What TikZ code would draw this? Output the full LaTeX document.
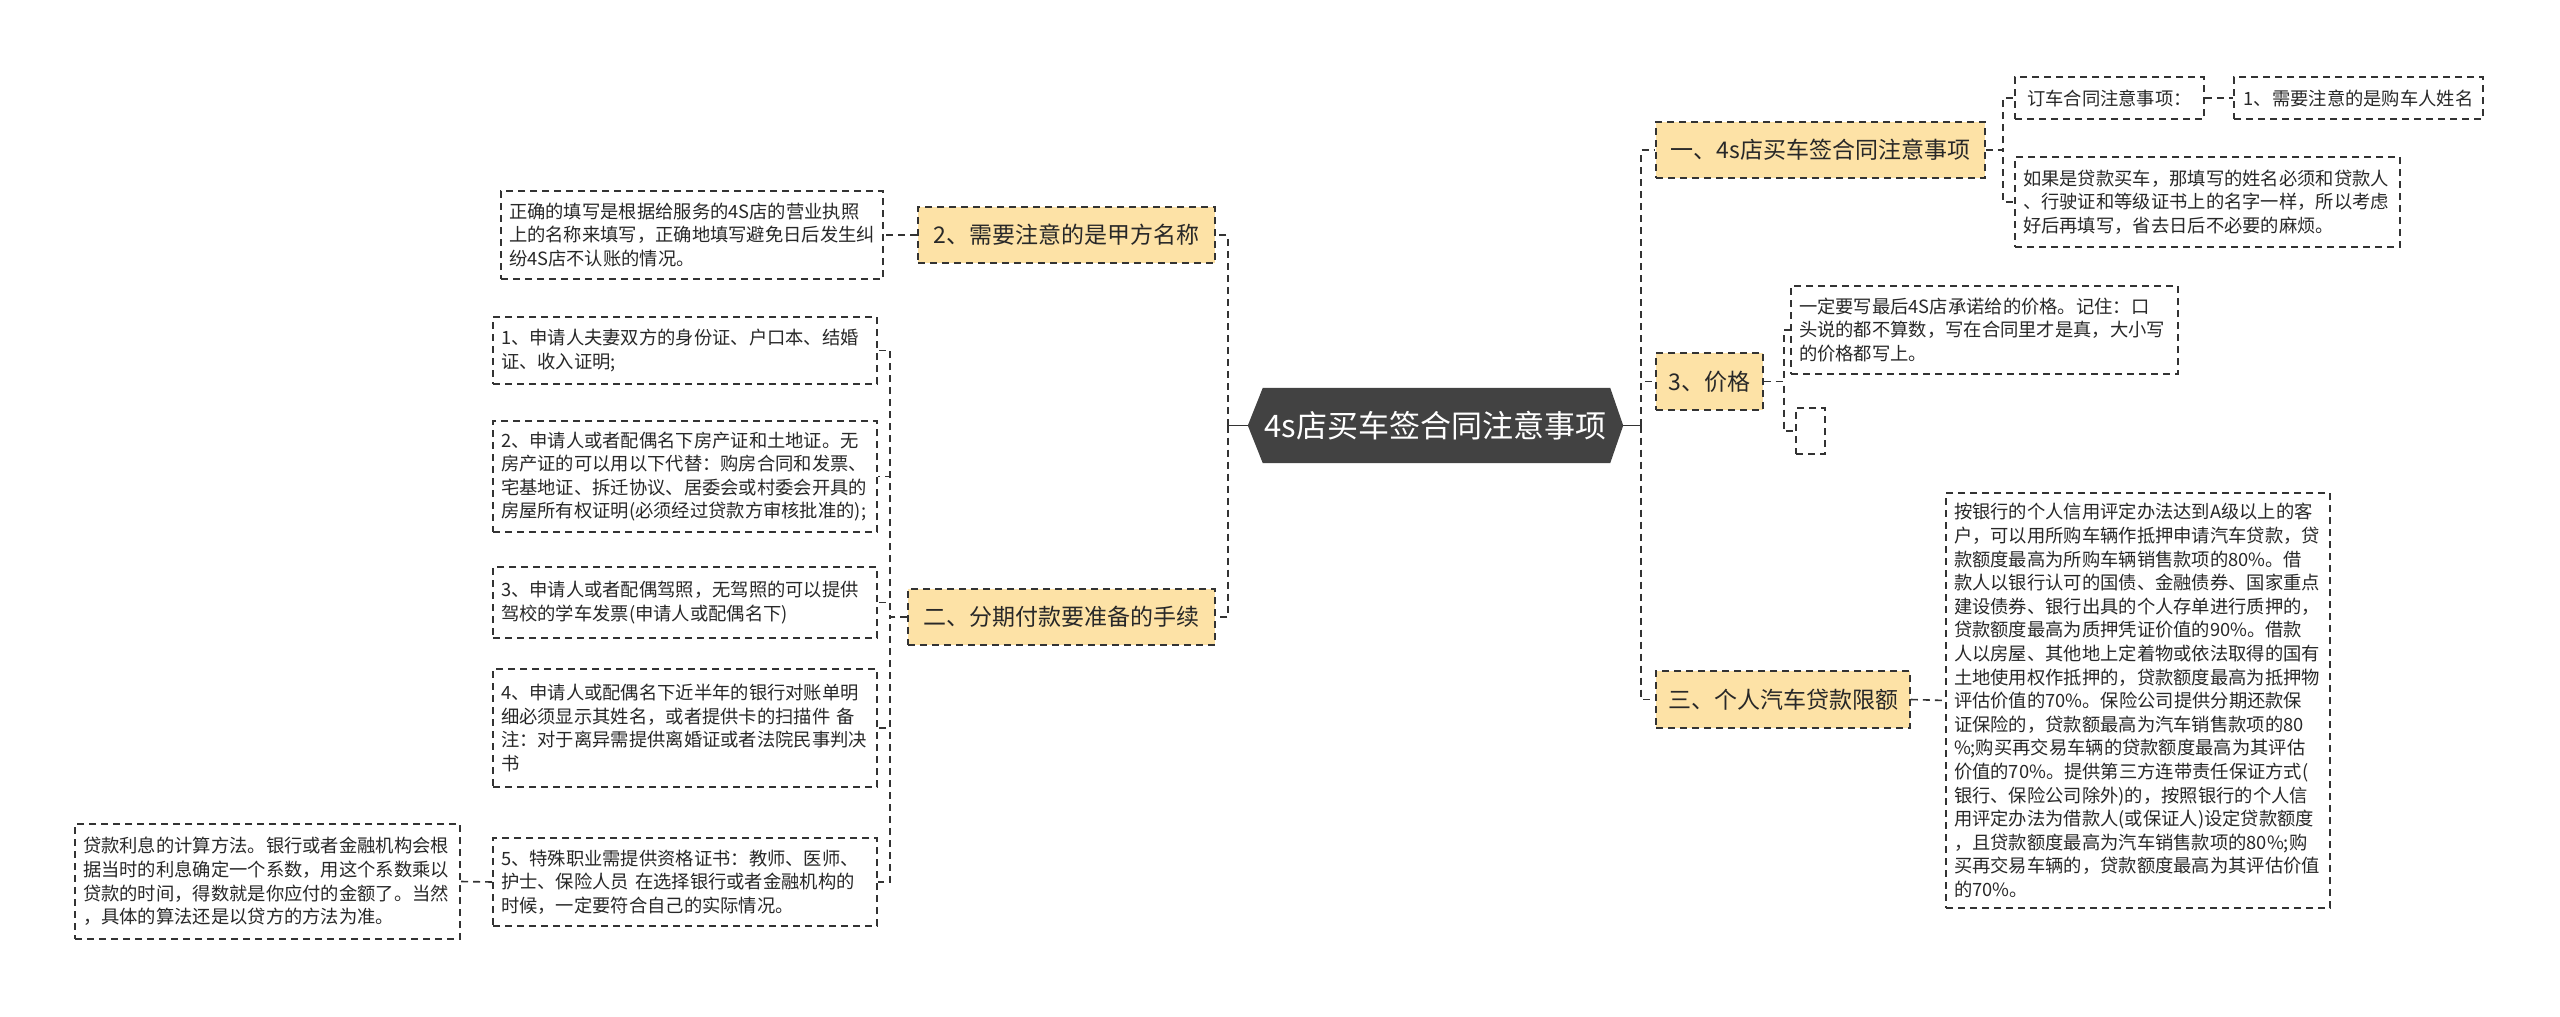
\documentclass[tikz,border=0pt]{standalone}
\usepackage{fontspec}
\newfontfamily\cjk{Noto Sans CJK SC}
\usetikzlibrary{backgrounds}
\definecolor{linec}{RGB}{51,51,51}
\definecolor{textc}{RGB}{40,40,40}
\definecolor{branchfill}{RGB}{253,226,166}
\definecolor{centerfill}{RGB}{66,66,66}
\begin{document}
\begin{tikzpicture}[x=1pt,y=-1pt,
  leafbox/.style={draw=linec, dash pattern=on 7pt off 5pt, line width=1.6pt, fill=white,
    font=\cjk\fontsize{18.3}{23.6}\selectfont, align=left, inner xsep=8pt, inner ysep=0pt, text=textc},
  onebox/.style={draw=linec, dash pattern=on 7pt off 5pt, line width=1.6pt, fill=white,
    font=\cjk\fontsize{18.3}{23.6}\selectfont, inner sep=0pt, text=textc},
  branchbox/.style={draw=linec, dash pattern=on 7pt off 5pt, line width=1.6pt, fill=branchfill,
    font=\cjk\fontsize{23}{28}\selectfont, inner sep=0pt, minimum height=56pt, text=textc},
  conn/.style={draw=linec, line width=1.6pt, dash pattern=on 7pt off 5pt},
  solidconn/.style={draw=linec, line width=1.6pt},
]
\useasboundingbox (0,0) rectangle (2560,1017);

% center
\node[inner sep=0pt, minimum width=375pt, minimum height=75pt,
  font=\cjk\fontsize{31}{36}\selectfont, text=white] (c) at (1435.5,425.5) {4s店买车签合同注意事项};
\begin{scope}[on background layer]
\fill[white] (0,0) rectangle (2560,1017);
\fill[centerfill] (c.west) -- ([xshift=15pt]c.north west) -- ([xshift=-13pt]c.north east)
  -- (c.east) -- ([xshift=-13pt]c.south east) -- ([xshift=15pt]c.south west) -- cycle;
\end{scope}

% left branches
\node[branchbox, minimum width=297pt] (b2) at (1066.5,235) {2、需要注意的是甲方名称};
\node[branchbox, minimum width=307pt] (bB) at (1061.5,617) {二、分期付款要准备的手续};

\node[leafbox, text width=366pt, minimum height=88pt] (t2) at (692,235)
  {正确的填写是根据给服务的4S店的营业执照\\上的名称来填写，正确地填写避免日后发生纠\\纷4S店不认账的情况。};

\node[leafbox, text width=368pt, minimum height=67pt] (k1) at (685,350.5)
  {1、申请人夫妻双方的身份证、户口本、结婚\\证、收入证明;};
\node[leafbox, text width=368pt, minimum height=111pt] (k2) at (685,476.5)
  {2、申请人或者配偶名下房产证和土地证。无\\房产证的可以用以下代替：购房合同和发票、\\宅基地证、拆迁协议、居委会或村委会开具的\\房屋所有权证明(必须经过贷款方审核批准的);};
\node[leafbox, text width=368pt, minimum height=71pt] (k3) at (685,602.5)
  {3、申请人或者配偶驾照，无驾照的可以提供\\驾校的学车发票(申请人或配偶名下)};
\node[leafbox, text width=368pt, minimum height=118pt] (k4) at (685,728)
  {4、申请人或配偶名下近半年的银行对账单明\\细必须显示其姓名，或者提供卡的扫描件 备\\注：对于离异需提供离婚证或者法院民事判决\\书};
\node[leafbox, text width=368pt, minimum height=88pt] (k5) at (685,882)
  {5、特殊职业需提供资格证书：教师、医师、\\护士、保险人员 在选择银行或者金融机构的\\时候，一定要符合自己的实际情况。};
\node[leafbox, text width=369pt, minimum height=115pt] (kL) at (267.5,881.5)
  {贷款利息的计算方法。银行或者金融机构会根\\据当时的利息确定一个系数，用这个系数乘以\\贷款的时间，得数就是你应付的金额了。当然\\，具体的算法还是以贷方的方法为准。};

% right branches
\node[branchbox, minimum width=329pt] (b1) at (1820.5,150) {一、4s店买车签合同注意事项};
\node[branchbox, minimum width=107pt, minimum height=57pt] (b3) at (1709.5,381.5) {3、价格};
\node[branchbox, minimum width=254pt, minimum height=57pt] (b4) at (1783,699.5) {三、个人汽车贷款限额};

\node[onebox, minimum width=189pt, minimum height=42pt] (r1a) at (2109.5,98) {订车合同注意事项：};
\node[onebox, minimum width=249pt, minimum height=42pt] (r1b) at (2358.5,98) {1、需要注意的是购车人姓名};
\node[leafbox, text width=369pt, minimum height=90pt] (r1c) at (2207.5,202)
  {如果是贷款买车，那填写的姓名必须和贷款人\\、行驶证和等级证书上的名字一样，所以考虑\\好后再填写，省去日后不必要的麻烦。};
\node[leafbox, text width=371pt, minimum height=88pt] (r3a) at (1984.5,330)
  {一定要写最后4S店承诺给的价格。记住：口\\头说的都不算数，写在合同里才是真，大小写\\的价格都写上。};
\node[onebox, minimum width=29pt, minimum height=46pt] (r3b) at (1810.5,431) {};
\node[leafbox, text width=368pt, minimum height=415pt] (r4) at (2138,700.5)
  {按银行的个人信用评定办法达到A级以上的客\\户，可以用所购车辆作抵押申请汽车贷款，贷\\款额度最高为所购车辆销售款项的80\%。借\\款人以银行认可的国债、金融债券、国家重点\\建设债券、银行出具的个人存单进行质押的，\\贷款额度最高为质押凭证价值的90\%。借款\\人以房屋、其他地上定着物或依法取得的国有\\土地使用权作抵押的，贷款额度最高为抵押物\\评估价值的70\%。保险公司提供分期还款保\\证保险的，贷款额最高为汽车销售款项的80\\\%;购买再交易车辆的贷款额度最高为其评估\\价值的70\%。提供第三方连带责任保证方式(\\银行、保险公司除外)的，按照银行的个人信\\用评定办法为借款人(或保证人)设定贷款额度\\，且贷款额度最高为汽车销售款项的80\%;购\\买再交易车辆的，贷款额度最高为其评估价值\\的70\%。};

% connectors
\coordinate (lt) at ([xshift=-20pt]c.west);
\coordinate (rt) at ([xshift=18pt]c.east);
\draw[solidconn] (c.west) -- (lt);
\draw[solidconn] (c.east) -- (rt);
\draw[conn] (lt) |- (b2.east);
\draw[conn] (lt) |- (bB.east);
\draw[conn] (rt) |- (b1.west);
\draw[conn] (rt) |- (b3.west);
\draw[conn] (rt) |- (b4.west);

\draw[conn] (b2.west) -- (t2.east);
\foreach \k in {k1,k2,k3,k4,k5} {
  \draw[conn] (bB.west) -- ++(-17,0) |- (\k.east);
}
\draw[conn] (k5.west) -- (kL.east);

\draw[conn] (b1.east) -- ++(17,0) |- (r1a.west);
\draw[conn] (b1.east) -- ++(17,0) |- (r1c.west);
\draw[conn] (r1a.east) -- (r1b.west);
\draw[conn] (b3.east) -- ++(20,0) |- (r3a.west);
\draw[conn] (b3.east) -- ++(20,0) |- (r3b.west);
\draw[conn] (b4.east) -- (r4.west);
\end{tikzpicture}
\end{document}
